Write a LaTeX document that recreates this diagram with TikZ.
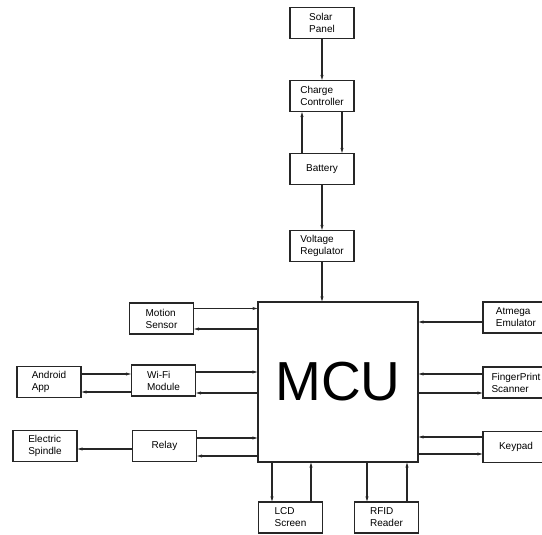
\documentclass[tikz,border=0pt]{standalone}
\usepackage{fontspec}
\setmainfont{Liberation Sans}
\usepackage{tikz}
\usetikzlibrary{calc,arrows.meta}

\begin{document}
\begin{tikzpicture}[x=1pt,y=-1pt,>={Stealth[length=5pt,width=3pt]}]
  \tikzstyle{block} = [draw=black!85, line width=1.1pt, fill=white, rectangle, minimum height=31pt, minimum width=64pt, inner sep=2pt, align=left, font={\fontsize{10}{12}\selectfont}]
  \tikzstyle{wideBlock} = [block, minimum width=66pt]
  \tikzstyle{mcuBlock} = [block, minimum width=160pt, minimum height=160pt, font={\fontsize{55}{60}\selectfont}]
  \tikzstyle{linkEdge} = [draw=black!85, line width=1.1pt, ->];
  \useasboundingbox (0,0) rectangle (542,535);

  % power chain
  \node[block, name=solar] at (322,23) {Solar\\Panel};
  \node[block, name=charge] at (322,96) {Charge\\Controller};
  \node[block, name=battery] at (322,169) {Battery};
  \node[block, name=regulator] at (322,246) {Voltage\\Regulator};

  \node[mcuBlock, name=mcu] at (338,382) {MCU};

  % left side
  \node[block, name=motion] at (161.5,318.5) {Motion\\Sensor};
  \node[block, name=wifi] at (163.5,380.5) {Wi-Fi\\Module};
  \node[block, name=android] at (49,382) {Android\\App};
  \node[block, name=relay] at (164.5,446) {Relay};
  \node[block, name=spindle] at (45,446) {Electric\\Spindle};

  % right side
  \node[wideBlock, name=atmega] at (516,317.5) {Atmega\\Emulator};
  \node[wideBlock, name=finger] at (516,382.5) {FingerPrint\\Scanner};
  \node[wideBlock, name=keypad] at (516,447) {Keypad};

  % bottom
  \node[block, name=lcd] at (290.5,517.5) {LCD\\Screen};
  \node[block, name=rfid] at (386.5,517.5) {RFID\\Reader};

  \draw (solar.south) edge[linkEdge] (charge.north);
  \draw ([xshift=20pt]charge.south) edge[linkEdge] ([xshift=20pt]battery.north);
  \draw ([xshift=-20pt]battery.north) edge[linkEdge] ([xshift=-20pt]charge.south);
  \draw (battery.south) edge[linkEdge] (regulator.north);
  \draw (regulator.south) edge[linkEdge] (regulator.south |- mcu.north);

  \draw ([yshift=10pt]motion.east) edge[linkEdge] ([yshift=10pt]motion.east -| mcu.west);
  \draw ([yshift=-10.5pt]motion.east -| mcu.west) edge[linkEdge] ([yshift=-10.5pt]motion.east);
  \draw ([yshift=8.5pt]wifi.east) edge[linkEdge] ([yshift=8.5pt]wifi.east -| mcu.west);
  \draw ([yshift=-12.5pt]wifi.east -| mcu.west) edge[linkEdge] ([yshift=-12.5pt]wifi.east);
  \draw ([yshift=8pt]android.east) edge[linkEdge] ([yshift=8pt]android.east -| wifi.west);
  \draw ([yshift=-10pt]android.east -| wifi.west) edge[linkEdge] ([yshift=-10pt]android.east);
  \draw ([yshift=-3pt]relay.west) edge[linkEdge] ([yshift=-3pt]relay.west -| spindle.east);
  \draw ([yshift=8pt]relay.east) edge[linkEdge] ([yshift=8pt]relay.east -| mcu.west);
  \draw ([yshift=-10pt]relay.east -| mcu.west) edge[linkEdge] ([yshift=-10pt]relay.east);

  \draw ([yshift=-4.5pt]atmega.west) edge[linkEdge] ([yshift=-4.5pt]atmega.west -| mcu.east);
  \draw ([yshift=8.5pt]finger.west) edge[linkEdge] ([yshift=8.5pt]finger.west -| mcu.east);
  \draw ([yshift=-10.5pt]finger.west -| mcu.east) edge[linkEdge] ([yshift=-10.5pt]finger.west);
  \draw ([yshift=10pt]keypad.west) edge[linkEdge] ([yshift=10pt]keypad.west -| mcu.east);
  \draw ([yshift=-7pt]keypad.west -| mcu.east) edge[linkEdge] ([yshift=-7pt]keypad.west);

  \draw ([xshift=-18.5pt]lcd.north |- mcu.south) edge[linkEdge] ([xshift=-18.5pt]lcd.north);
  \draw ([xshift=20.5pt]lcd.north) edge[linkEdge] ([xshift=20.5pt]lcd.north |- mcu.south);
  \draw ([xshift=-19.5pt]rfid.north |- mcu.south) edge[linkEdge] ([xshift=-19.5pt]rfid.north);
  \draw ([xshift=20.5pt]rfid.north) edge[linkEdge] ([xshift=20.5pt]rfid.north |- mcu.south);
\end{tikzpicture}
\end{document}
